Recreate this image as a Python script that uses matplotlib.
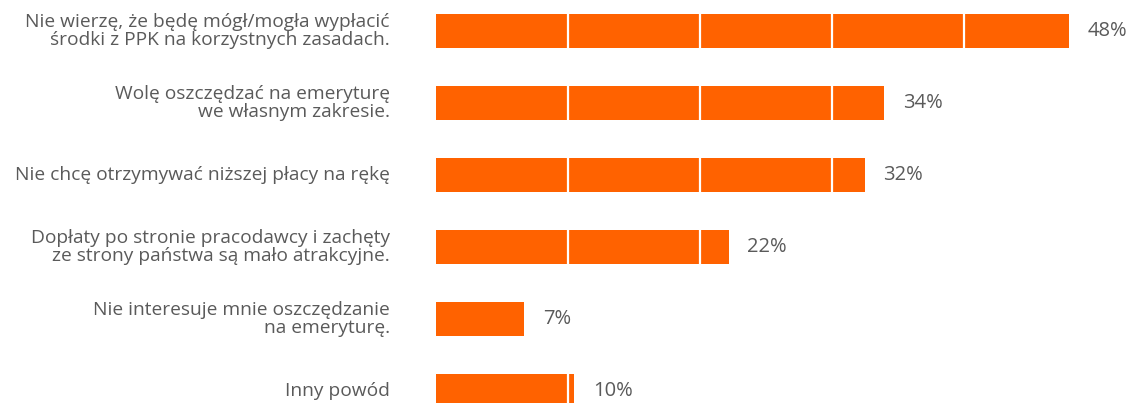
import matplotlib
matplotlib.use("Agg")
import matplotlib.pyplot as plt

categories = [
    "Nie wierzę, że będę mógł/mogła wypłacić\nśrodki z PPK na korzystnych zasadach.",
    "Wolę oszczędzać na emeryturę\nwe własnym zakresie.",
    "Nie chcę otrzymywać niższej płacy na rękę",
    "Dopłaty po stronie pracodawcy i zachęty\nze strony państwa są mało atrakcyjne.",
    "Nie interesuje mnie oszczędzanie\nna emeryturę.",
    "Inny powód",
]
values = [48, 34, 32.5, 22.2, 6.7, 10.5]
value_labels = ["48%", "34%", "32%", "22%", "7%", "10%"]
grid_ticks = [10, 20, 30, 40]

ORANGE = "#FF6200"
TEXT = "#5a5a5a"

fig = plt.figure(figsize=(11.28, 4.03), dpi=100)
ax = fig.add_axes([436 / 1128, 0, 52 * 13.19 / 1128, 1])

y = list(range(len(categories)))
ax.barh(y, values, height=0.486, color=ORANGE, zorder=1)
for g in grid_ticks:
    ax.axvline(g, color="white", lw=1.6, zorder=2)

for yi, v, lab, cat in zip(y, values, value_labels, categories):
    ax.text(v + 1.4, yi, lab, ha="left", va="center", fontsize=14.5,
            color=TEXT, family="Open Sans")
    ax.text(-3.5, yi, cat, ha="right", va="center", fontsize=13.8,
            color=TEXT, family="Open Sans", linespacing=0.98, clip_on=False)

ax.set_xlim(0, 52)
ax.set_ylim(5 + 12 / 72, -31 / 72)
ax.axis("off")

fig.savefig("out.png", dpi=100)
